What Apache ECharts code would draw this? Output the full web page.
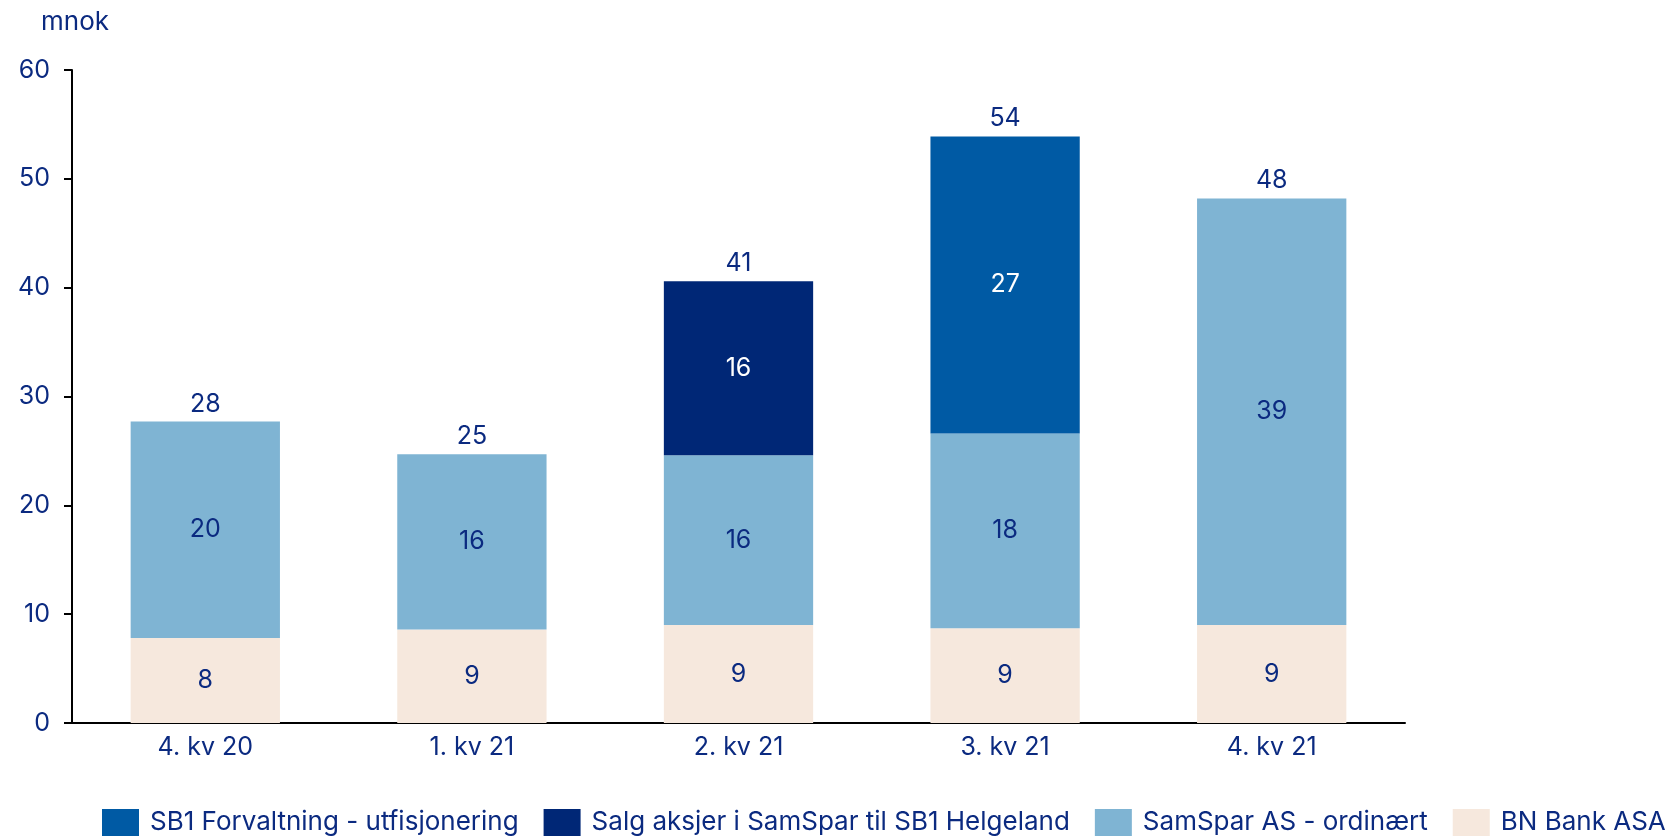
<!DOCTYPE html>
<html>
<head>
<meta charset="utf-8">
<script src="https://cdn.jsdelivr.net/npm/echarts@6/dist/echarts.min.js"></script>
<style>
  html, body { margin: 0; padding: 0; background: #fff; }
  #chart { width: 1678px; height: 838px; }
</style>
</head>
<body>
<div id="chart"></div>
<script>
// Quarterly income, mnok
const categories = ['4. kv 20', '1. kv 21', '2. kv 21', '3. kv 21', '4. kv 21'];
const bnBank     = [7.8, 8.6, 9.0, 8.7, 9.0];
const samSpar    = [19.9, 16.1, 15.6, 17.9, 39.2];
const salgAksjer = [null, null, 16.0, null, null];
const sb1Forv    = [null, null, null, 27.3, null];
const yTicks     = [0, 10, 20, 30, 40, 50, 60];

const names = {
  sb1: 'SB1 Forvaltning - utfisjonering',
  salg: 'Salg aksjer i SamSpar til SB1 Helgeland',
  samspar: 'SamSpar AS - ordinært',
  bn: 'BN Bank ASA'
};

const totals = categories.map((_, i) =>
  [bnBank, samSpar, salgAksjer, sb1Forv].reduce((s, arr) => s + (arr[i] || 0), 0));

const textBlue = '#0b2a80';
const font = 'Inter, "Open Sans", sans-serif';
const fs = 25;

function segment(name, data, color, labelColor) {
  return {
    name, type: 'bar', stack: 'total', data,
    barWidth: '56%',
    itemStyle: { color },
    label: {
      show: true, position: 'inside', color: labelColor,
      fontFamily: font, fontSize: fs,
      formatter: p => (p.value == null ? '' : Math.round(p.value))
    }
  };
}

const chart = echarts.init(document.getElementById('chart'), null, { renderer: 'canvas' });
chart.setOption({
  animation: false,
  backgroundColor: '#fff',
  title: {
    text: 'mnok', left: 36, top: 4,
    textStyle: { color: textBlue, fontFamily: font, fontSize: 26, fontWeight: 'normal' }
  },
  grid: { left: 72, right: 273, top: 70, bottom: 115, containLabel: false },
  legend: {
    data: [names.sb1, names.salg, names.samspar, names.bn],
    left: 97, bottom: -3, width: 1578,
    itemWidth: 37, itemHeight: 27, itemGap: 25,
    icon: 'rect',
    textStyle: { color: textBlue, fontFamily: font, fontSize: 26, padding: [0, 0, 0, 6] }
  },
  xAxis: {
    type: 'category', data: categories,
    axisLine: { lineStyle: { color: '#000', width: 2 } },
    axisTick: { show: false },
    axisLabel: { color: textBlue, fontFamily: font, fontSize: fs, margin: 12 }
  },
  yAxis: {
    type: 'value', min: yTicks[0], max: yTicks[yTicks.length - 1], interval: 10,
    axisLine: { show: true, lineStyle: { color: '#000', width: 2 } },
    axisTick: { show: true, length: 8, lineStyle: { color: '#000', width: 2 } },
    splitLine: { show: false },
    axisLabel: { color: textBlue, fontFamily: font, fontSize: fs, margin: 22 }
  },
  series: [
    segment(names.bn, bnBank, '#f6e8dd', textBlue),
    segment(names.samspar, samSpar, '#7fb4d3', textBlue),
    segment(names.salg, salgAksjer, '#002776', '#ffffff'),
    segment(names.sb1, sb1Forv, '#005aa4', '#ffffff'),
    {
      name: 'Sum', type: 'bar', stack: 'total',
      data: totals.map(() => 0),
      itemStyle: { color: 'transparent' },
      label: {
        show: true, position: 'top', distance: 5, color: textBlue,
        fontFamily: font, fontSize: fs,
        formatter: p => Math.round(totals[p.dataIndex])
      }
    }
  ]
});
</script>
</body>
</html>
